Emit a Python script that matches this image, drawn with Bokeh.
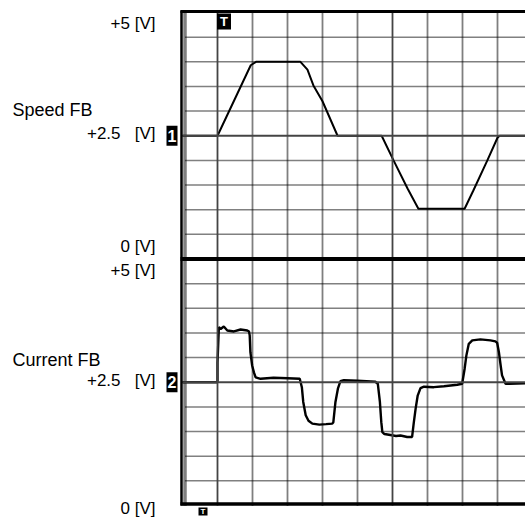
from bokeh.plotting import figure
from bokeh.models import Range1d, ColumnDataSource
from bokeh.core.properties import value
from bokeh.embed import file_html
from bokeh.resources import INLINE

# ---------------- data (time in screen divisions, volts) ----------------
speed_t = [0.0, 1.0, 1.95, 2.1, 3.37, 3.57, 3.74, 4.0, 4.43, 5.69, 6.03, 6.43,
           6.74, 8.06, 8.31, 8.71, 9.0, 9.06, 9.8]
speed_v = [2.5, 2.5, 3.93, 4.0, 4.0, 3.84, 3.52, 3.2, 2.5, 2.5, 2.0, 1.43,
           1.02, 1.02, 1.39, 2.0, 2.46, 2.5, 2.5]

current_t = [0.0, 1.0, 1.0, 1.04, 1.09, 1.18, 1.28, 1.47, 1.66, 1.85, 1.9,
             1.92, 1.94, 1.99, 2.04, 2.09, 2.23, 2.6, 3.0, 3.35, 3.41, 3.45,
             3.52, 3.6, 3.71, 3.91, 4.1, 4.28, 4.31, 4.37, 4.44, 4.51, 4.61,
             5.0, 5.51, 5.58, 5.64, 5.68, 5.71, 5.77, 5.94, 6.1, 6.23, 6.42,
             6.56, 6.61, 6.66, 6.72, 6.8, 6.9, 7.18, 7.47, 7.85, 7.99, 8.06,
             8.11, 8.18, 8.28, 8.51, 8.8, 8.94, 8.99, 9.04, 9.09, 9.13, 9.23,
             9.33, 9.8]
current_v = [2.5, 2.5, 2.9, 3.62, 3.58, 3.63, 3.55, 3.53, 3.57, 3.55, 3.53,
             3.45, 3.11, 2.84, 2.7, 2.6, 2.57, 2.59, 2.58, 2.57, 2.4, 2.1,
             1.83, 1.72, 1.66, 1.64, 1.65, 1.66, 1.69, 2.1, 2.37, 2.52, 2.54,
             2.53, 2.51, 2.47, 2.1, 1.69, 1.49, 1.45, 1.43, 1.41, 1.42, 1.39,
             1.39, 1.69, 1.96, 2.23, 2.38, 2.41, 2.4, 2.42, 2.45, 2.47, 2.77,
             3.04, 3.28, 3.35, 3.37, 3.35, 3.33, 3.3, 3.11, 2.84, 2.64, 2.47,
             2.47, 2.48]

volt_ticks = [5.0, 2.5, 0.0]
volt_labels = ["+5 [V]", "+2.5\u00a0\u00a0\u00a0[V]", "0 [V]"]
channel_names = ["Speed FB", "Current FB"]
channel_ids = ["1", "2"]
trigger_div = 1.0
center_div = 6.0
n_vdiv = 10          # vertical divisions per panel
n_hdiv = 10          # horizontal divisions
panel_volts = 5.0

# ---------------- geometry / styles ----------------
W, H = 525, 517
PX_DIV = 35.0        # px per horizontal division
PX_UNIT = 49.3       # px per volt
LEFT_PX = 182.0      # frame-left offset from figure left
TOP_PX = 12.0
x_start = -LEFT_PX / PX_DIV
x_end = x_start + W / PX_DIV
y_end = 2 * panel_volts + TOP_PX / PX_UNIT
y_start = y_end - H / PX_UNIT

def dx(px):
    return px / PX_DIV

def dy(px):
    return px / PX_UNIT

FONT = value("Liberation Sans")
GRID_C = "#000000"
AXIS_C = "#444444"

p = figure(width=W, height=H, output_backend="svg", toolbar_location=None,
           x_range=Range1d(x_start, x_end), y_range=Range1d(y_start, y_end),
           x_axis_location=None, y_axis_location=None, min_border=0,
           outline_line_color=None, background_fill_color="white",
           border_fill_color="white")
p.grid.visible = False

panel_offsets = [panel_volts, 0.0]   # top (speed), bottom (current)
vstep = panel_volts / n_vdiv

# horizontal dotted grid
hx0, hx1, hy = [], [], []
for off in panel_offsets:
    for k in range(1, n_vdiv):
        if k == n_vdiv // 2:
            continue
        hy.append(off + k * vstep)
        hx0.append(dx(3))
        hx1.append(x_end)
p.segment(x0=hx0, y0=hy, x1=hx1, y1=hy, line_color=GRID_C, line_width=1.5,
          line_dash="1 1")

# vertical dotted grid
vx = [d for d in range(2, n_hdiv + 1) if d != center_div]
p.segment(x0=vx, y0=[0] * len(vx), x1=vx, y1=[2 * panel_volts] * len(vx),
          line_color=GRID_C, line_width=1.8, line_dash="1 1")

# left edge minor tick hatching
p.segment(x0=[dx(2.5)], y0=[0], x1=[dx(2.5)], y1=[2 * panel_volts],
          line_color="black", line_width=3.5, line_dash="1 1")

# traces
p.line(speed_t, [v + panel_offsets[0] for v in speed_v],
       line_color="black", line_width=2)
p.line(current_t, [v + panel_offsets[1] for v in current_v],
       line_color="black", line_width=2.4)

# solid reference lines
p.segment(x0=[trigger_div, center_div], y0=[0, 0],
          x1=[trigger_div, center_div], y1=[2 * panel_volts] * 2,
          line_color=AXIS_C, line_width=1.8)
p.segment(x0=[0, 0], y0=[o + panel_volts / 2 for o in panel_offsets],
          x1=[x_end, x_end], y1=[o + panel_volts / 2 for o in panel_offsets],
          line_color=AXIS_C, line_width=2)

# borders
p.segment(x0=[dx(-2)] * 3, y0=[2 * panel_volts + dy(1), panel_volts, 0 + dy(1.5)],
          x1=[x_end] * 3, y1=[2 * panel_volts + dy(1), panel_volts, 0 + dy(1.5)],
          line_color="black", line_width=[3, 4, 3.5])
p.segment(x0=[dx(-1)], y0=[0], x1=[dx(-1)], y1=[2 * panel_volts + dy(2)],
          line_color="black", line_width=2.5)

# volt labels
lab_x, lab_y, lab_t, lab_off = [], [], [], []
offs_top = [11, -2, -13]
offs_bot = [11.5, -2, 3]
for off, offs in zip(panel_offsets, [offs_top, offs_bot]):
    for v, t, o in zip(volt_ticks, volt_labels, offs):
        lab_x.append(dx(-27))
        lab_y.append(off + v)
        lab_t.append(t)
        lab_off.append(o)
src = ColumnDataSource(dict(x=lab_x, y=lab_y, text=lab_t, yo=lab_off))
p.text(x="x", y="y", text="text", y_offset="yo", source=src,
       text_align="right", text_baseline="middle", text_font=FONT,
       text_font_size="17px", text_color="black")

# channel names
p.text(x=[dx(-170)] * 2, y=[o + panel_volts / 2 for o in panel_offsets],
       text=channel_names, y_offset=[-26, -22], text_align="left",
       text_baseline="middle", text_font=FONT, text_font_size="18px",
       text_color="black")

# channel markers
ch_y = [o + panel_volts / 2 for o in panel_offsets]
p.rect(x=[dx(-10.5)] * 2, y=ch_y, width=11, height=20, width_units="screen",
       height_units="screen", fill_color="black", line_color=None)
p.text(x=[dx(-10.5)] * 2, y=ch_y, text=channel_ids, text_align="center",
       text_baseline="middle", text_font=FONT, text_font_size="16px",
       text_font_style="bold", text_color="white")

# trigger markers
p.rect(x=[trigger_div + dx(6.5)], y=[2 * panel_volts - dy(9)], width=14,
       height=16, width_units="screen", height_units="screen",
       fill_color="black", line_color=None)
p.text(x=[trigger_div + dx(6.5)], y=[2 * panel_volts - dy(9)], text=["T"],
       text_align="center", text_baseline="middle", text_font=FONT,
       text_font_size="13px", text_font_style="bold", text_color="white")
p.rect(x=[dx(20.5)], y=[0 - dy(6)], width=9, height=8, width_units="screen",
       height_units="screen", fill_color="black", line_color=None)
p.text(x=[dx(20.5)], y=[0 - dy(6)], text=["T"], text_align="center",
       text_baseline="middle", text_font=FONT, text_font_size="8px",
       text_font_style="bold", text_color="white")

open("out.html", "w").write(file_html(p, INLINE))
